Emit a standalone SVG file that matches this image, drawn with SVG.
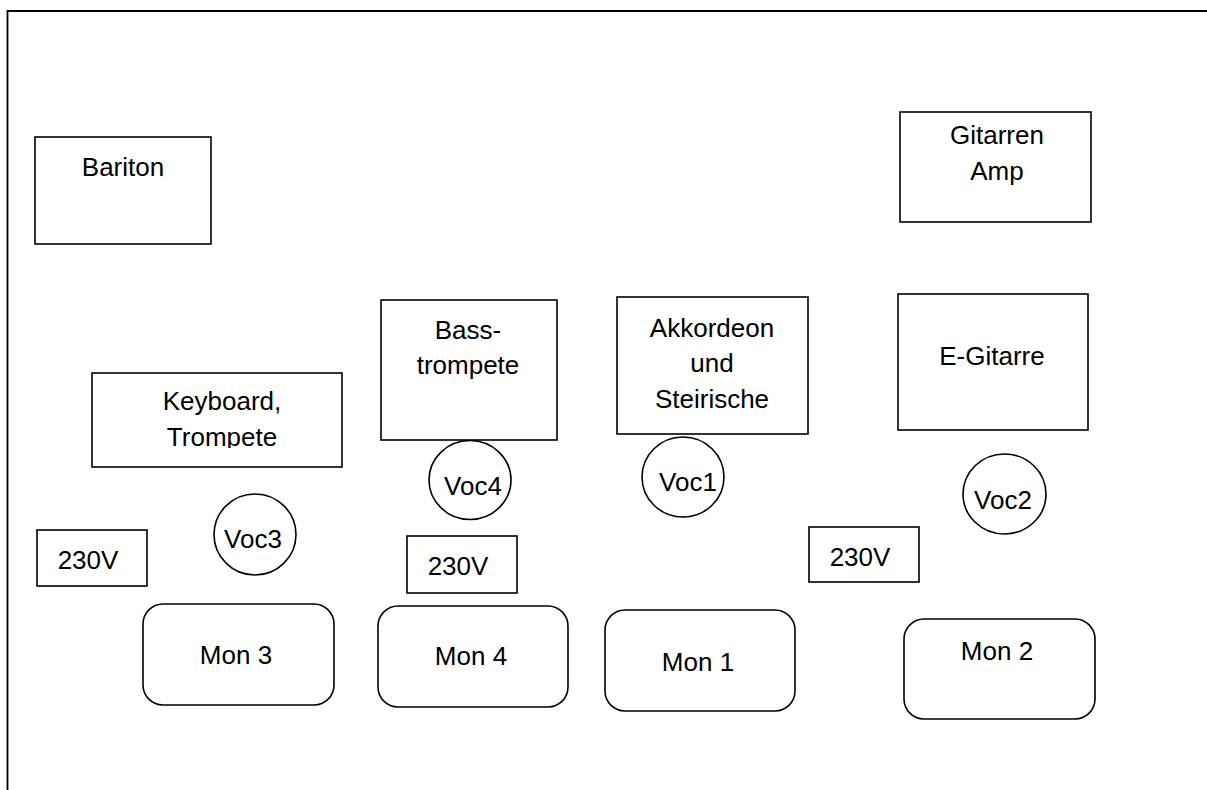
<svg xmlns="http://www.w3.org/2000/svg" width="1207" height="790" viewBox="0 0 1207 790">
<style>
.b{fill:#fff;stroke:#000;stroke-width:1.6}
.t{font-family:"Liberation Sans",Arial,sans-serif;font-size:26px;fill:#000;text-anchor:middle}
</style>
<defs>
<clipPath id="kbclip"><rect x="92" y="373" width="250" height="75"/></clipPath>
</defs>
<rect width="1207" height="790" fill="#fff"/>
<path d="M7.5,790 V11 H1207" fill="none" stroke="#000" stroke-width="1.8"/>
<g id="connectors"></g>
<g id="bariton"><rect class="b" x="35" y="137" width="176" height="107"/><text class="t" x="123" y="176">Bariton</text></g>
<g id="gitarren-amp"><rect class="b" x="900" y="112" width="191" height="110"/><text class="t" x="997" y="144">Gitarren</text><text class="t" x="997" y="180">Amp</text></g>
<g id="keyboard"><rect class="b" x="92" y="373" width="250" height="94"/><g clip-path="url(#kbclip)"><text class="t" x="222" y="410">Keyboard,</text><text class="t" x="222" y="446">Trompete</text></g></g>
<g id="basstrompete"><rect class="b" x="381" y="300" width="176" height="140"/><text class="t" x="468" y="339">Bass-</text><text class="t" x="468" y="374">trompete</text></g>
<g id="akkordeon"><rect class="b" x="617" y="297" width="191" height="137"/><text class="t" x="712" y="337">Akkordeon</text><text class="t" x="712" y="372">und</text><text class="t" x="712" y="408">Steirische</text></g>
<g id="egitarre"><rect class="b" x="898" y="294" width="190" height="136"/><text class="t" x="992" y="365">E-Gitarre</text></g>
<g id="voc4"><ellipse class="b" cx="470" cy="480" rx="41" ry="39.5"/><text class="t" x="473" y="495">Voc4</text></g>
<g id="voc3"><ellipse class="b" cx="255" cy="534.5" rx="41" ry="40.5"/><text class="t" x="253" y="548">Voc3</text></g>
<g id="voc1"><ellipse class="b" cx="683" cy="477" rx="41" ry="40"/><text class="t" x="688" y="491">Voc1</text></g>
<g id="voc2"><ellipse class="b" cx="1004.5" cy="494" rx="41.5" ry="40"/><text class="t" x="1003" y="509">Voc2</text></g>
<g id="power-left"><rect class="b" x="37" y="530" width="110" height="56"/><text class="t" x="88" y="569">230V</text></g>
<g id="power-mid"><rect class="b" x="407" y="536" width="110" height="57"/><text class="t" x="458" y="575">230V</text></g>
<g id="power-right"><rect class="b" x="809" y="527" width="110" height="55"/><text class="t" x="860" y="566">230V</text></g>
<g id="mon3"><rect class="b" x="143" y="604" width="191" height="101" rx="20"/><text class="t" x="236" y="664">Mon 3</text></g>
<g id="mon4"><rect class="b" x="378" y="606" width="190" height="101" rx="20"/><text class="t" x="471" y="665">Mon 4</text></g>
<g id="mon1"><rect class="b" x="605" y="610" width="190" height="101" rx="20"/><text class="t" x="698" y="671">Mon 1</text></g>
<g id="mon2"><rect class="b" x="904" y="619" width="191" height="100" rx="20"/><text class="t" x="997" y="660">Mon 2</text></g>
</svg>
